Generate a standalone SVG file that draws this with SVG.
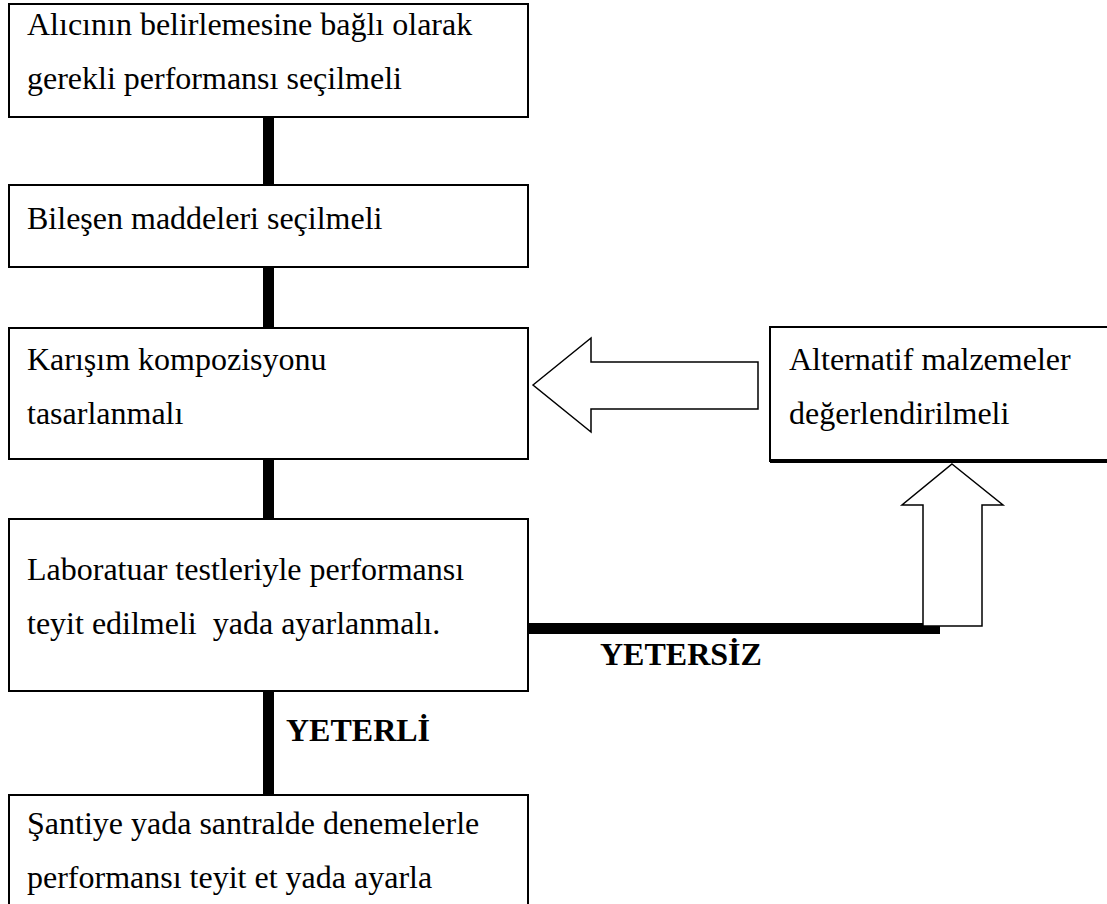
<svg xmlns="http://www.w3.org/2000/svg" width="1107" height="904" viewBox="0 0 1107 904">
<style>
.box{fill:#fff;stroke:#000;stroke-width:2}
.t{font-family:"Liberation Serif","Times New Roman",serif;font-size:32px;fill:#000;white-space:pre}
.b{font-family:"Liberation Serif","Times New Roman",serif;font-size:32px;font-weight:bold;fill:#000}
.bar{fill:#000}
.arr{fill:#fff;stroke:#000;stroke-width:1.5;stroke-linejoin:miter}
</style>
<rect width="1107" height="904" fill="#fff"/>
<g id="connectors">
<rect class="bar" x="263" y="117" width="11" height="68"/>
<rect class="bar" x="263" y="267" width="11" height="61"/>
<rect class="bar" x="263" y="459" width="11" height="60"/>
<rect class="bar" x="263" y="691" width="11" height="104"/>
<rect class="bar" x="528" y="623" width="412" height="11"/>
<polygon class="arr" points="533,385 591,338 591,362 758,362 758,409 591,409 591,432"/>
<polygon class="arr" points="952,464 1003,505 982,505 982,626 923,626 923,505 902,505"/>
<text class="b" x="286" y="741">YETERLİ</text>
<text class="b" x="600" y="665">YETERSİZ</text>
</g>
<g id="n1">
<rect class="box" x="9" y="4" width="519" height="113"/>
<text class="t" x="27" y="35">Alıcının belirlemesine bağlı olarak</text>
<text class="t" x="27" y="89">gerekli performansı seçilmeli</text>
</g>
<g id="n2">
<rect class="box" x="9" y="185" width="519" height="82"/>
<text class="t" x="27" y="229">Bileşen maddeleri seçilmeli</text>
</g>
<g id="n3">
<rect class="box" x="9" y="328" width="519" height="131"/>
<text class="t" x="27" y="370">Karışım kompozisyonu</text>
<text class="t" x="27" y="424">tasarlanmalı</text>
</g>
<g id="n4">
<rect class="box" x="9" y="519" width="519" height="172"/>
<text class="t" x="27" y="580">Laboratuar testleriyle performansı</text>
<text class="t" x="27" y="634">teyit edilmeli  yada ayarlanmalı.</text>
</g>
<g id="n5">
<rect class="box" x="9" y="795" width="519" height="130"/>
<text class="t" x="27" y="834">Şantiye yada santralde denemelerle</text>
<text class="t" x="27" y="888">performansı teyit et yada ayarla</text>
</g>
<g id="n6">
<rect class="box" x="770" y="327" width="360" height="134"/>
<rect class="bar" x="770" y="459" width="340" height="4"/>
<text class="t" x="789" y="370">Alternatif malzemeler</text>
<text class="t" x="789" y="424">değerlendirilmeli</text>
</g>
</svg>
